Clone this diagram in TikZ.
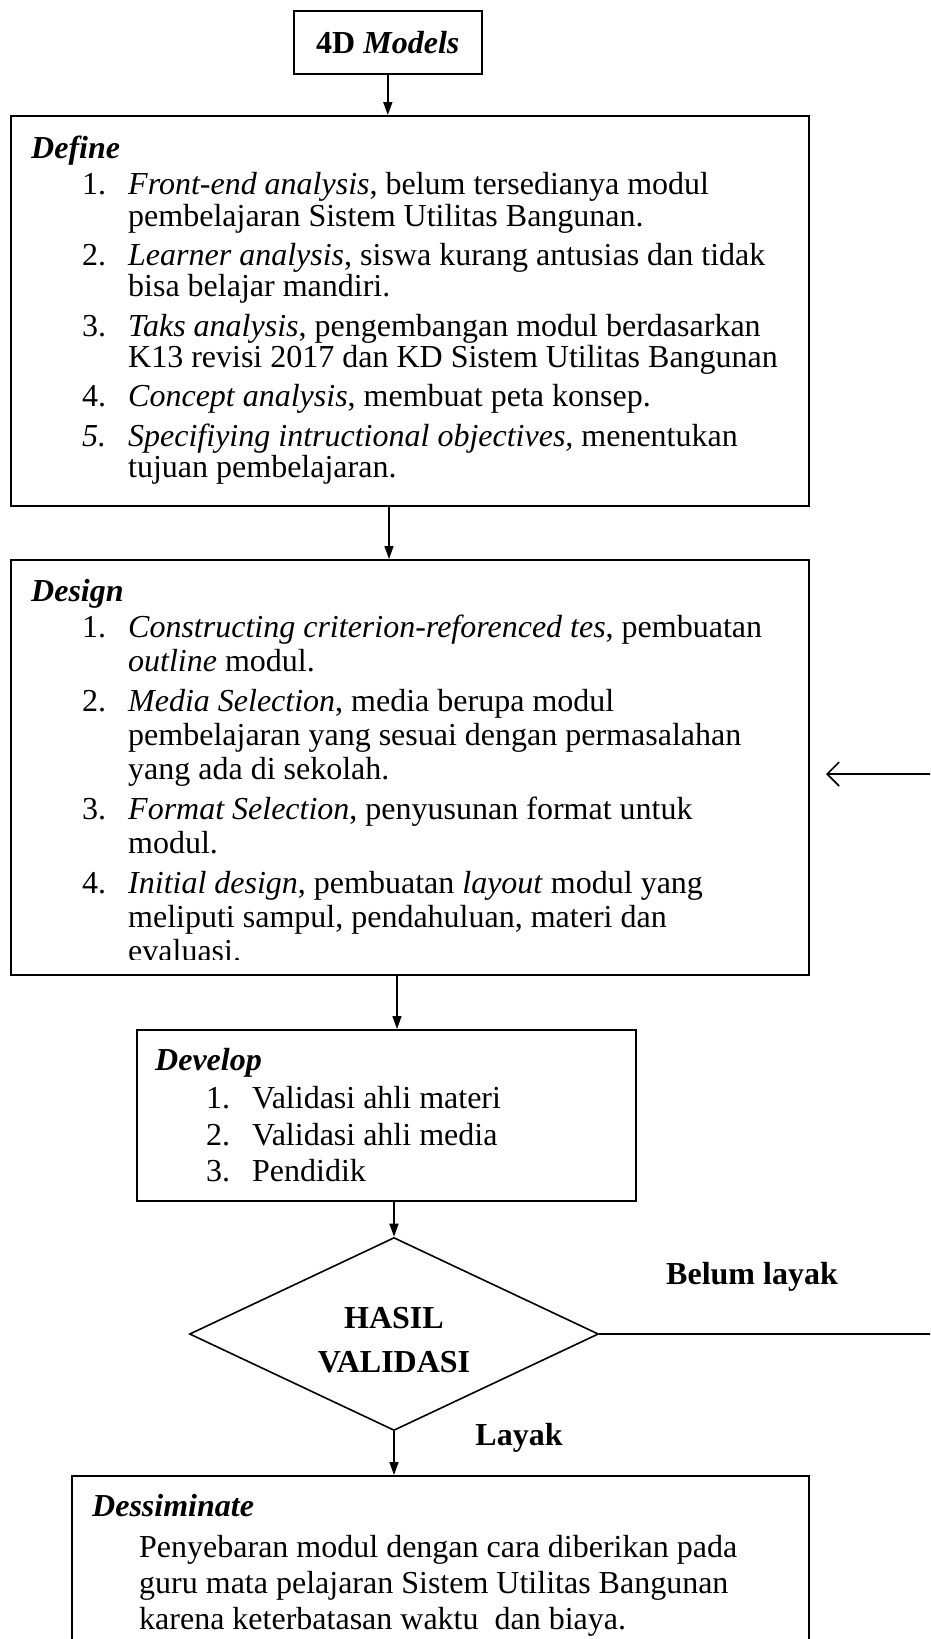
\documentclass[tikz,border=0pt]{standalone}
\usepackage{fontspec}
\setmainfont{Liberation Serif}
\usetikzlibrary{arrows.meta}
\usetikzlibrary{shapes.geometric}

\newcommand{\itm}[1]{\hspace*{51pt}\makebox[46pt][l]{#1}}
\newcommand{\cont}{\hspace*{97pt}}

\begin{document}
\begin{tikzpicture}[x=1pt,y=-1pt]
        \tikzset{
            box/.style={draw, line width=1.6pt, inner sep=0pt, anchor=north west},
            txt/.style={anchor=north west, inner sep=0pt, align=left},
            arr/.style={-{Triangle[length=13pt,width=9pt]}, line width=1.6pt},
            back/.style={-{Straight Barb[length=12pt,width=24pt]}, line width=1.6pt},
            lbl/.style={font=\fontsize{32}{38}\selectfont\bfseries},
        }
        \useasboundingbox (0,0) rectangle (930,1639);
        \clip (0,0) rectangle (930,1639);

        % boxes
        \node[box, minimum width=188pt, minimum height=63pt, font=\fontsize{32}{38}\selectfont\bfseries] (models) at (293,10) {4D \textit{Models}};
        \node[box, minimum width=798pt, minimum height=390pt] (define) at (10,115) {};
        \node[box, minimum width=798pt, minimum height=415pt] (design) at (10,559) {};
        \node[box, minimum width=499pt, minimum height=171pt] (develop) at (136,1029) {};
        \node[draw, diamond, line width=1.6pt, inner sep=0pt, aspect=2.1,
              minimum width=409pt, minimum height=193pt] (hasil) at (394,1334) {};
        \node[box, minimum width=737pt, minimum height=220pt] (dessiminate) at (71,1475) {};

        % texts
        \node[txt, font=\fontsize{32}{31.3}\selectfont] (definetxt) at (31,136) {%
            \textbf{\textit{Define}}\\[4.7pt]
            \itm{1.}\textit{Front-end analysis}, belum tersedianya modul\\
            \cont pembelajaran Sistem Utilitas Bangunan.\\[8.1pt]
            \itm{2.}\textit{Learner analysis}, siswa kurang antusias dan tidak\\
            \cont bisa belajar mandiri.\\[8.1pt]
            \itm{3.}\textit{Taks analysis}, pengembangan modul berdasarkan\\
            \cont K13 revisi 2017 dan KD Sistem Utilitas Bangunan\\[8.1pt]
            \itm{4.}\textit{Concept analysis}, membuat peta konsep.\\[8.1pt]
            \itm{\textit{5.}}\textit{Specifiying intructional objectives,} menentukan\\
            \cont tujuan pembelajaran.};
        \begin{scope}
            \clip (design.north west) rectangle ([yshift=16pt]design.south east);
            \node[txt, font=\fontsize{32}{34}\selectfont] (designtxt) at (31,579) {%
                \textbf{\textit{Design}}\\[2pt]
                \itm{1.}\textit{Constructing criterion-reforenced tes}, pembuatan\\
                \cont\textit{outline} modul.\\[6pt]
                \itm{2.}\textit{Media Selection}, media berupa modul\\
                \cont pembelajaran yang sesuai dengan permasalahan\\
                \cont yang ada di sekolah.\\[6pt]
                \itm{3.}\textit{Format Selection}, penyusunan format untuk\\
                \cont modul.\\[6pt]
                \itm{4.}\textit{Initial design}, pembuatan \textit{layout} modul yang\\
                \cont meliputi sampul, pendahuluan, materi dan\\
                \cont evaluasi.};
        \end{scope}
        \node[txt, font=\fontsize{32}{36.6}\selectfont] (developtxt) at (155,1048) {%
            \textbf{\textit{Develop}}\\[1.4pt]
            \itm{1.}Validasi ahli materi\\
            \itm{2.}Validasi ahli media\\
            \itm{3.}Pendidik};
        \node[txt, font=\fontsize{32}{36}\selectfont] (dessiminatetxt) at (92,1494) {%
            \textbf{\textit{Dessiminate}}\\[5pt]
            \hspace*{47pt}Penyebaran modul dengan cara diberikan pada\\
            \hspace*{47pt}guru mata pelajaran Sistem Utilitas Bangunan\\
            \hspace*{47pt}karena keterbatasan waktu\ \ dan biaya.};

        % labels
        \node[align=center, font=\fontsize{32}{44}\selectfont\bfseries] (hasiltxt) at (394,1340) {HASIL\\VALIDASI};
        \node[lbl] (belum) at (752,1277) {Belum layak};
        \node[lbl] (layak) at (519,1438) {Layak};

        % connectors
        \coordinate (ax1) at (389,0);
        \coordinate (ax2) at (397,0);
        \coordinate (fb1) at (945,1334);
        \coordinate (fb2) at (945,774);
        \coordinate (fbend) at (826,774);
        \draw[arr] (models.south) -- (define.north -| models.south);
        \draw[arr] (define.south -| ax1) -- (design.north -| ax1);
        \draw[arr] (design.south -| ax2) -- (develop.north -| ax2);
        \draw[arr] (develop.south -| hasil) -- (hasil.north);
        \draw[arr] (hasil.south) -- (dessiminate.north -| hasil);
        \draw[back] (hasil.east) -- (fb1) -- (fb2) -- (fbend);
\end{tikzpicture}
\end{document}
